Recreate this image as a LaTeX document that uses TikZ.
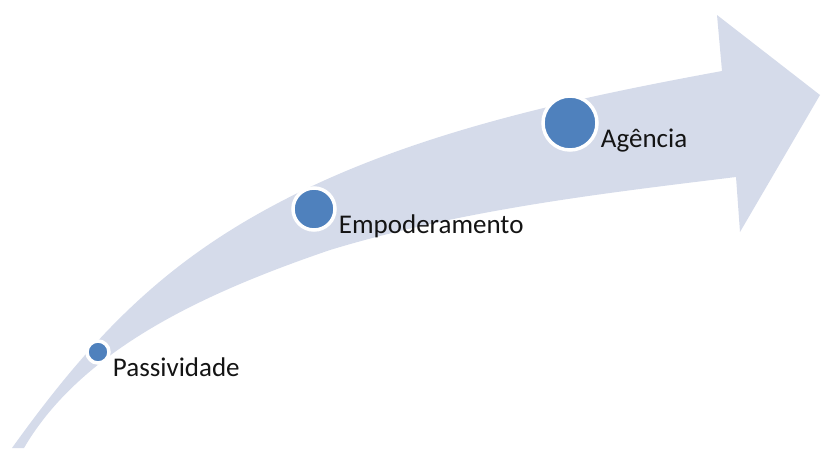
\documentclass[tikz,border=0pt]{standalone}
\usepackage{fontspec}
\setmainfont{Carlito}
\definecolor{bandblue}{RGB}{213,219,234}
\definecolor{dotblue}{RGB}{79,129,189}
\definecolor{lbltext}{RGB}{20,20,20}
\begin{document}
\begin{tikzpicture}
        [
        x=1pt, y=-1pt,
        stage/.style={circle, fill=dotblue, draw=white, line width=3.5pt, inner sep=0pt},
        stage label/.style={anchor=base west, inner sep=0pt, text=lbltext, font=\fontsize{27}{30}\selectfont},
        ]
        \useasboundingbox (0,0) rectangle (821,448);
        % curved band and head
        \fill[bandblue] (12,448) .. controls (93,335) and (165,262) .. (280,202)
            .. controls (413,132) and (575,98) .. (722,71)
            -- (717,15) -- (820,95) -- (740,232) -- (736,177)
            .. controls (597,194) and (462,210) .. (330,250)
            .. controls (216,289) and (84,345) .. (24,448)
            -- cycle;
	    \node[stage, minimum size=22pt] (pas) at (98,352) {};
	    \node[stage, minimum size=42pt] (emp) at (314,209) {};
	    \node[stage, minimum size=54pt] (age) at (570,123) {};
	    \node[stage label] (pas-lbl) at ([shift={(2,24)}]pas.east) {Passividade};
	    \node[stage label] (emp-lbl) at ([shift={(2,24)}]emp.east) {Empoderamento};
	    \node[stage label] (age-lbl) at ([shift={(2,24)}]age.east) {Agência};
        \end{tikzpicture}
\end{document}
